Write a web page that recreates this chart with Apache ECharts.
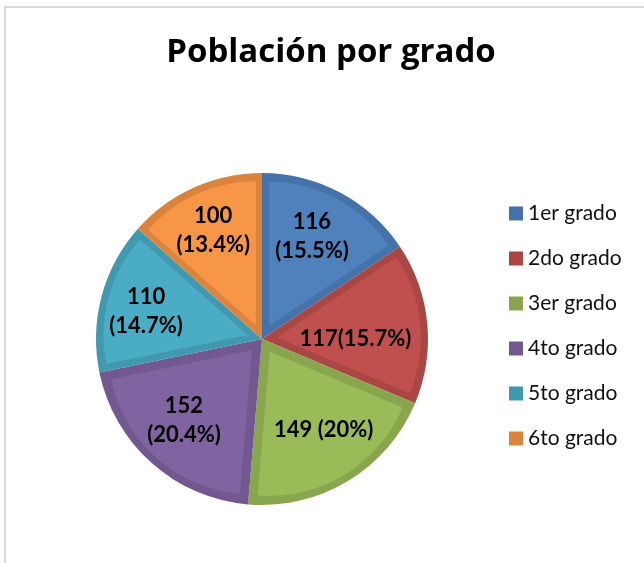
<!DOCTYPE html>
<html lang="es">
<head>
<meta charset="UTF-8">
<title>Población por grado</title>
<script src="https://cdn.jsdelivr.net/npm/echarts@6/dist/echarts.min.js"></script>
<style>
  html, body { margin: 0; padding: 0; background: #fff; overflow: hidden; }
  #marco {
    position: absolute; left: 4px; top: 6px; width: 800px; height: 800px;
    border-left: 2px solid #d9d9d9; border-top: 2px solid #d9d9d9;
  }
  #chart { position: absolute; left: 0; top: 0; width: 644px; height: 563px; }
</style>
</head>
<body>
<div id="marco"></div>
<div id="chart"></div>
<script>
  var grados = ['1er grado', '2do grado', '3er grado', '4to grado', '5to grado', '6to grado'];
  var alumnos = [116, 117, 149, 152, 110, 100];
  var etiquetas = ['116\n(15.5%)', '117(15.7%)', '149 (20%)', '152\n(20.4%)', '110\n(14.7%)', '100\n(13.4%)'];

  var colores = ['#4F81BD', '#C0504D', '#9BBB59', '#8064A2', '#4BACC6', '#F79646'];
  var bordes = ['#4572A8', '#AA4643', '#89A54E', '#71588F', '#4198AF', '#DB843D'];

  // ajustes finos de etiquetas (Excel las mueve un poco)
  var desplaz = { 0: [-6, 2], 1: [-25, 11], 2: [0, -11], 3: [1, -8], 4: [-1, 3] };

  var chart = echarts.init(document.getElementById('chart'));

  var centro = [262, 339];

  function datos(fn) {
    return grados.map(function (g, i) {
      var d = { name: g, value: alumnos[i] };
      fn(d, i);
      return d;
    });
  }

  var option = {
    animation: false,
    title: {
      text: 'Población por grado',
      left: 326,
      textAlign: 'center',
      top: 31,
      textStyle: { fontFamily: 'Open Sans', fontWeight: 'bold', fontSize: 33, color: '#000' }
    },
    legend: {
      orient: 'vertical',
      left: 504,
      top: 198,
      itemWidth: 14,
      itemHeight: 14,
      itemGap: 24,
      icon: 'rect',
      selectedMode: false,
      itemStyle: { borderWidth: 0 },
      textStyle: { fontFamily: 'Lato', fontSize: 21, lineHeight: 20, color: '#111' },
      data: grados
    },
    series: [
      {
        // fondo oscuro = borde de cada sector
        type: 'pie',
        center: centro,
        radius: 166,
        startAngle: 90,
        clockwise: true,
        silent: true,
        label: { show: false },
        labelLine: { show: false },
        data: datos(function (d, i) {
          d.itemStyle = { color: bordes[i], borderWidth: 0 };
        })
      },
      {
        // relleno claro, desplazado hacia afuera para dejar el borde visible
        type: 'pie',
        center: centro,
        radius: 144,
        startAngle: 90,
        clockwise: true,
        silent: true,
        selectedMode: 'multiple',
        selectedOffset: 15,
        label: { show: false },
        labelLine: { show: false },
        data: datos(function (d, i) {
          d.selected = true;
          d.itemStyle = { color: colores[i], borderWidth: 0 };
        })
      },
      {
        // etiquetas
        type: 'pie',
        z: 10,
        center: centro,
        radius: [66, 166],
        startAngle: 90,
        clockwise: true,
        silent: true,
        itemStyle: { color: 'rgba(0,0,0,0)' },
        labelLine: { show: false },
        label: {
          show: true,
          position: 'inside',
          fontFamily: 'Lato',
          fontWeight: 'bold',
          fontSize: 22,
          lineHeight: 29,
          color: '#000'
        },
        data: datos(function (d, i) {
          d.label = { formatter: etiquetas[i] };
          if (desplaz[i]) d.label.offset = desplaz[i];
        })
      }
    ]
  };

  chart.setOption(option);
</script>
</body>
</html>
